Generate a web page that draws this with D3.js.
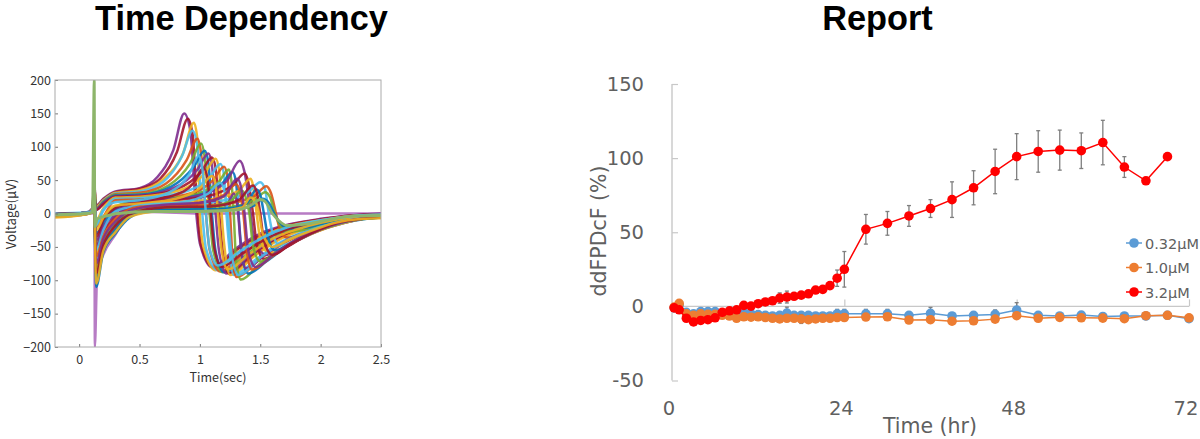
<!DOCTYPE html>
<html><head><meta charset="utf-8">
<script src="https://cdn.jsdelivr.net/npm/d3@7"></script>
<style>html,body{margin:0;background:#fff;overflow:hidden}svg{display:block}</style>
</head><body><svg id="c" width="1200" height="439"></svg>
<script>
const waveColors=["#0072BD","#D95319","#EDB120","#7E2F8E","#77AC30","#4DBEEB","#A2142F"];
const waveXTicks=[0,0.5,1,1.5,2,2.5];
const waveYTicks=[-200,-150,-100,-50,0,50,100,150,200];
const flatTrace=[[-0.2,0],[0.06,0],[0.11,0],[0.125,70],[0.13,-200],[0.15,-90],[0.2,-62],[0.3,-32],[0.4,-6],[0.6,2],[1.0,0],[1.3,0],[1.5,0],[1.7,0],[1.9,0],[2.1,0],[2.3,0],[2.5,0]];
const spikeTrace=[[-0.2,-2],[0.06,0],[0.11,2],[0.125,200],[0.13,-20],[0.15,-8],[0.22,-4],[0.32,0],[0.6,3],[1.0,3],[1.3,5],[1.42,12],[1.5,21],[1.54,18],[1.6,0],[1.65,-10],[1.72,-18],[1.88,-16],[2.05,-10],[2.25,-4],[2.5,-3]];
const waveTraces=[
[[-0.2,-2],[0.06,1],[0.11,8],[0.125,45],[0.14,12],[0.2,22],[0.3,33],[0.5,38],[0.65,55],[0.78,95],[0.87,150],[0.92,125],[0.97,0],[1.0,-45],[1.1,-80],[1.3,-52],[1.5,-30],[1.7,-18],[2,-8],[2.25,-3],[2.5,0]],
[[-0.2,-1],[0.06,1],[0.11,7],[0.125,40],[0.14,11],[0.2,21],[0.3,32],[0.5,37],[0.67,52],[0.81,92],[0.9,142],[0.94,118],[0.98,0],[1.01,-48],[1.12,-82],[1.3,-55],[1.5,-33],[1.7,-19],[2,-9],[2.25,-3],[2.5,-1]],
[[-0.2,-4],[0.06,0],[0.11,7],[0.125,38],[0.14,10],[0.2,20],[0.3,31],[0.5,35],[0.7,52],[0.86,90],[0.95,136],[0.98,110],[1.0,0],[1.03,-50],[1.13,-85],[1.3,-60],[1.5,-36],[1.7,-21],[2,-10],[2.25,-4],[2.5,-2]],
[[-0.2,0],[0.06,2],[0.11,6],[0.125,35],[0.14,8],[0.2,19],[0.3,30],[0.5,33],[0.7,48],[0.85,85],[0.94,124],[0.98,98],[1.02,0],[1.05,-52],[1.15,-85],[1.3,-63],[1.5,-38],[1.7,-22],[2,-11],[2.25,-4],[2.5,-2]],
[[-0.2,-3],[0.06,1],[0.11,6],[0.125,32],[0.14,8],[0.2,18],[0.3,29],[0.5,31],[0.72,45],[0.89,80],[0.98,112],[1.01,90],[1.05,0],[1.08,-54],[1.17,-87],[1.35,-62],[1.55,-36],[1.75,-21],[2,-12],[2.25,-5],[2.5,-3]],
[[-0.2,-2],[0.06,0],[0.11,5],[0.125,30],[0.14,7],[0.2,17],[0.3,28],[0.5,29],[0.74,42],[0.92,75],[1.01,105],[1.04,84],[1.08,0],[1.11,-55],[1.19,-88],[1.35,-67],[1.55,-40],[1.75,-23],[2,-13],[2.25,-5],[2.5,-3]],
[[-0.2,-5],[0.06,-1],[0.11,5],[0.125,28],[0.14,6],[0.2,16],[0.3,27],[0.5,28],[0.76,40],[0.95,70],[1.04,94],[1.07,76],[1.1,0],[1.13,-56],[1.2,-88],[1.38,-66],[1.58,-40],[1.78,-24],[2,-14],[2.25,-6],[2.5,-4]],
[[-0.2,-1],[0.06,1],[0.11,5],[0.125,28],[0.14,6],[0.2,15],[0.3,26],[0.5,27],[0.78,38],[0.98,66],[1.07,90],[1.1,72],[1.13,0],[1.16,-58],[1.22,-90],[1.4,-66],[1.6,-41],[1.8,-25],[2,-15],[2.25,-6],[2.5,-4]],
[[-0.2,-3],[0.06,0],[0.11,4],[0.125,26],[0.14,5],[0.2,14],[0.3,25],[0.5,26],[0.8,36],[1.01,62],[1.1,84],[1.13,68],[1.16,0],[1.19,-58],[1.24,-90],[1.42,-66],[1.62,-41],[1.82,-25],[2.02,-15],[2.25,-7],[2.5,-4]],
[[-0.2,-2],[0.06,1],[0.11,4],[0.125,25],[0.14,-10],[0.2,8],[0.3,24],[0.5,25],[0.82,34],[1.04,60],[1.13,82],[1.16,64],[1.18,0],[1.21,-60],[1.25,-92],[1.45,-64],[1.65,-40],[1.85,-25],[2.05,-15],[2.25,-8],[2.5,-4]],
[[-0.2,-4],[0.06,0],[0.11,4],[0.125,24],[0.14,-15],[0.2,4],[0.3,22],[0.5,23],[0.85,31],[1.08,54],[1.17,74],[1.2,58],[1.22,0],[1.25,-62],[1.28,-92],[1.47,-68],[1.67,-43],[1.87,-27],[2.05,-17],[2.25,-9],[2.5,-5]],
[[-0.2,-1],[0.06,1],[0.11,3],[0.125,24],[0.14,-20],[0.2,-5],[0.3,20],[0.5,21],[0.88,28],[1.11,50],[1.2,70],[1.23,54],[1.25,0],[1.27,-65],[1.3,-95],[1.5,-68],[1.7,-44],[1.9,-27],[2.1,-15],[2.3,-8],[2.5,-5]],
[[-0.2,-3],[0.06,0],[0.11,3],[0.125,60],[0.14,-45],[0.2,-12],[0.3,10],[0.5,20],[0.9,26],[1.15,46],[1.24,66],[1.26,50],[1.28,0],[1.3,-70],[1.34,-99],[1.5,-75],[1.7,-50],[1.9,-30],[2.1,-17],[2.3,-9],[2.5,-5]],
[[-0.2,-2],[0.06,1],[0.11,3],[0.125,30],[0.14,-30],[0.2,-15],[0.3,6],[0.5,18],[0.9,24],[1.18,44],[1.27,62],[1.3,46],[1.32,0],[1.35,-65],[1.4,-90],[1.55,-72],[1.75,-46],[1.95,-28],[2.1,-18],[2.3,-10],[2.5,-6]],
[[-0.2,-4],[0.06,0],[0.11,3],[0.125,28],[0.14,-40],[0.2,-22],[0.3,2],[0.5,18],[0.95,25],[1.22,48],[1.33,79],[1.37,62],[1.42,0],[1.45,-40],[1.55,-62],[1.7,-52],[1.85,-36],[2,-24],[2.2,-13],[2.35,-8],[2.5,-5]],
[[-0.2,-1],[0.06,1],[0.11,3],[0.125,26],[0.14,-50],[0.2,-28],[0.3,-4],[0.5,16],[1.0,24],[1.27,42],[1.37,60],[1.4,48],[1.44,0],[1.47,-45],[1.53,-68],[1.7,-52],[1.85,-37],[2,-25],[2.2,-14],[2.35,-8],[2.5,-5]],
[[-0.2,-3],[0.06,0],[0.11,2],[0.125,24],[0.14,-60],[0.2,-34],[0.3,-10],[0.5,14],[1.05,20],[1.32,34],[1.42,52],[1.44,42],[1.47,0],[1.5,-38],[1.58,-60],[1.72,-48],[1.88,-34],[2.05,-22],[2.2,-14],[2.35,-8],[2.5,-5]],
[[-0.2,-2],[0.06,1],[0.11,2],[0.125,24],[0.14,-70],[0.2,-40],[0.3,-14],[0.42,4],[0.6,12],[1.1,17],[1.4,32],[1.5,47],[1.54,36],[1.57,0],[1.6,-28],[1.66,-48],[1.8,-40],[2,-24],[2.2,-13],[2.35,-8],[2.5,-5]],
[[-0.2,-5],[0.06,-1],[0.11,2],[0.125,22],[0.14,-80],[0.2,-46],[0.3,-20],[0.42,-1],[0.6,10],[1.15,13],[1.45,26],[1.55,41],[1.59,30],[1.63,0],[1.66,-22],[1.72,-36],[1.85,-32],[2,-22],[2.2,-12],[2.35,-8],[2.5,-6]],
[[-0.2,-3],[0.06,0],[0.11,2],[0.125,20],[0.14,-95],[0.2,-52],[0.3,-25],[0.42,-4],[0.6,7],[1.2,9],[1.45,20],[1.54,32],[1.58,25],[1.62,0],[1.66,-16],[1.72,-27],[1.85,-25],[2,-18],[2.2,-10],[2.35,-7],[2.5,-5]],
[[-0.2,-1],[0.06,1],[0.11,2],[0.125,20],[0.14,-110],[0.2,-58],[0.3,-30],[0.42,-6],[0.6,5],[1.25,6],[1.45,12],[1.52,22],[1.57,16],[1.62,-2],[1.66,-13],[1.74,-22],[1.88,-21],[2,-16],[2.2,-9],[2.35,-5],[2.5,-4]],
[[-0.2,-3],[0.06,0],[0.11,4],[0.125,18],[0.14,-50],[0.2,-20],[0.3,-3],[0.5,11],[0.9,13],[1.12,19],[1.22,12],[1.28,30],[1.31,12],[1.34,-50],[1.38,-82],[1.55,-60],[1.75,-37],[1.95,-24],[2.1,-16],[2.3,-8],[2.5,-4]],
[[-0.2,-2],[0.06,1],[0.11,3],[0.125,20],[0.14,-35],[0.2,-10],[0.3,8],[0.5,19],[0.78,27],[0.95,46],[1.03,68],[1.06,55],[1.09,0],[1.12,-52],[1.18,-80],[1.35,-60],[1.55,-38],[1.75,-22],[2,-12],[2.25,-5],[2.5,-3]],
[[-0.2,-4],[0.06,0],[0.11,4],[0.125,20],[0.14,-25],[0.2,-6],[0.3,12],[0.5,15],[0.8,22],[1.0,38],[1.1,56],[1.13,44],[1.15,0],[1.18,-55],[1.23,-84],[1.4,-62],[1.6,-38],[1.8,-24],[2,-14],[2.25,-6],[2.5,-3]],
[[-0.2,-2],[0.06,1],[0.11,3],[0.125,18],[0.14,-55],[0.2,-25],[0.3,3],[0.5,12],[0.85,17],[1.07,30],[1.17,46],[1.2,36],[1.23,0],[1.26,-58],[1.32,-92],[1.5,-66],[1.7,-42],[1.9,-26],[2.1,-15],[2.3,-8],[2.5,-4]],
[[-0.2,-3],[0.06,0],[0.11,3],[0.125,18],[0.14,-65],[0.2,-35],[0.3,-8],[0.5,10],[0.95,14],[1.2,28],[1.3,44],[1.33,34],[1.36,0],[1.39,-58],[1.43,-84],[1.6,-64],[1.8,-40],[2,-24],[2.15,-15],[2.3,-9],[2.5,-5]],
[[-0.2,-1],[0.06,1],[0.11,2],[0.125,16],[0.14,-85],[0.2,-44],[0.3,-16],[0.45,3],[0.7,8],[1.05,10],[1.25,18],[1.35,34],[1.38,24],[1.41,0],[1.44,-48],[1.5,-72],[1.65,-56],[1.85,-34],[2.05,-21],[2.25,-11],[2.5,-6]],
[[-0.2,-4],[0.06,0],[0.11,2],[0.125,16],[0.14,-100],[0.2,-54],[0.3,-24],[0.42,-2],[0.65,5],[1.2,7],[1.38,14],[1.47,36],[1.5,28],[1.53,0],[1.56,-32],[1.62,-55],[1.78,-42],[1.95,-27],[2.15,-14],[2.35,-8],[2.5,-6]],
[[-0.2,-1],[0.06,1],[0.11,3],[0.125,15],[0.14,-75],[0.2,-38],[0.3,-12],[0.45,6],[0.7,13],[1.0,16],[1.2,26],[1.31,52],[1.34,40],[1.37,0],[1.4,-55],[1.46,-80],[1.62,-60],[1.82,-37],[2.02,-22],[2.25,-10],[2.5,-5]],
[[-0.2,-3],[0.06,0],[0.11,2],[0.125,14],[0.14,-90],[0.2,-48],[0.3,-18],[0.45,1],[0.7,9],[1.1,11],[1.32,20],[1.44,42],[1.47,32],[1.5,0],[1.53,-40],[1.6,-62],[1.75,-46],[1.92,-30],[2.12,-15],[2.35,-8],[2.5,-5]],
[[-0.2,-6],[0.06,-1],[0.11,2],[0.125,14],[0.14,-105],[0.2,-56],[0.3,-28],[0.42,-5],[0.65,3],[1.15,4],[1.35,9],[1.42,24],[1.46,18],[1.49,0],[1.52,-30],[1.6,-50],[1.75,-38],[1.92,-26],[2.12,-14],[2.35,-8],[2.5,-7]],
[[-0.2,-2],[0.06,1],[0.11,4],[0.125,22],[0.14,-18],[0.2,6],[0.3,17],[0.5,20],[0.75,32],[0.91,58],[0.99,86],[1.02,68],[1.05,0],[1.08,-52],[1.15,-78],[1.32,-58],[1.52,-36],[1.72,-21],[2,-10],[2.25,-4],[2.5,-2]]
];
const hours=[0.3,1,2,3,4,5,6,7,8,9,10,11,12,13,14,15,16,17,18,19,20,21,22,23,24,27,30,33,36,39,42,45,48,51,54,57,60,63,66,69,72];
const lowDose=[-1,1,-4,-5,-3.5,-3.5,-3.5,-5,-4,-5,-4,-5,-5.5,-6,-6.5,-6,-4.5,-6,-6,-6,-6.5,-6.5,-6.5,-5,-5,-5,-5,-6,-4.7,-6.5,-6,-5.4,-2.5,-6,-6.5,-5.9,-6.8,-6.5,-6.5,-6,-8.3];
const lowErr=[0,2,0,0,0,0,0,0,0,0,0,0,0,0,0,0,4,0,2,0,0,0,0,3,3,3,3,0,4,0,0,3,5,0,2,0,0,0,0,0,2];
const midDose=[-0.5,2,-5,-6,-5,-5.4,-5.4,-6,-6.5,-8,-7,-7.3,-7,-7.5,-8,-8.5,-8,-8,-8.5,-9,-8.5,-8,-8,-7.5,-7.5,-7.2,-7,-9.2,-9,-10,-9.7,-8.6,-6.3,-8,-7.4,-7.7,-7.9,-8.3,-6.3,-6,-7.7];
const midErr=[0,0,0,0,0,0,0,0,0,0,0,0,0,0,0,0,0,0,3,0,0,0,0,0,0,0,0,0,0,0,0,0,0,0,0,0,0,0,0,0,0];
const highDose=[-1,-2.3,-8,-10.5,-9.5,-9,-7.7,-4,-3,-2.3,0.7,0.2,1.8,3,3.8,5.6,6.3,6.8,7.6,8.5,11,11.5,14,19,25,52,56,61,66,72,80,91,101,104.5,105.4,105,110.5,94,84.7,101,null];
const highErr=[0,0,0,0,0,0,0,0,0,0,0,0,0,0,0,3.5,4,2,2,2,2,2,2.5,5.5,12,10,8,7,6,12,11.5,15,15.5,14,13.5,12,15,7,0,0,0];
const doseLabels=["0.32µM","1.0µM","3.2µM"];
const doseColors=["#5B9BD5","#ED7D31","#FF0000"];
const reportXTicks=[0,24,48,72];
const reportYTicks=[-50,0,50,100,150];

const svg=d3.select("#c");
const defs=svg.append("defs");
defs.append("filter").attr("id","soft").append("feGaussianBlur").attr("stdDeviation",0.6);
defs.append("filter").attr("id","softer").append("feGaussianBlur").attr("stdDeviation",0.35);
defs.append("clipPath").attr("id","plotClip").append("rect").attr("x",55).attr("y",80).attr("width",326).attr("height",267);

const title=(x,y,t)=>svg.append("text").attr("x",x).attr("y",y).attr("text-anchor","middle")
  .attr("font-family","Liberation Sans").attr("font-weight","bold").attr("font-size",34.3).attr("fill","#000").text(t);
title(241.5,30,"Time Dependency");
title(877.5,30,"Report");

/* left panel */
const wx=d3.scaleLinear().domain([-0.2,2.5]).range([55,381]);
const wy=d3.scaleLinear().domain([-200,200]).range([347,80]);
const jp="'Noto Sans CJK JP','Noto Sans',sans-serif";
const wave=d3.line().x(d=>wx(d[0])).y(d=>wy(d[1])).curve(d3.curveMonotoneX);
const wg=svg.append("g").attr("clip-path","url(#plotClip)").append("g").attr("filter","url(#soft)");
wg.append("path").attr("d",wave(flatTrace)).attr("fill","none").attr("stroke","#B77BC4").attr("stroke-width",2.4);
wg.append("g").selectAll("path").data(waveTraces).join("path").attr("d",wave).attr("fill","none")
  .attr("stroke",(d,i)=>waveColors[(i*3+3)%7]).attr("stroke-width",2.5).attr("stroke-opacity",.9);
wg.append("path").attr("d",wave(spikeTrace)).attr("fill","none").attr("stroke","#8DB56A").attr("stroke-width",2.8);
const style=(g,col,size,fam)=>{g.selectAll(".domain").remove();g.selectAll("line").attr("stroke","#777");
  g.selectAll("text").attr("font-family",fam).attr("font-size",size).attr("fill",col);};
const wb=svg.append("g").attr("transform","translate(0,347)").call(d3.axisBottom(wx).tickValues(waveXTicks).tickFormat(d3.format("~g")).tickSize(-3).tickPadding(8));
style(wb,"#333",12.5,jp);
const wl=svg.append("g").attr("transform","translate(55,0)").call(d3.axisLeft(wy).tickValues(waveYTicks).tickSize(-3).tickPadding(4));
style(wl,"#333",12.5,jp);
svg.append("rect").attr("x",55).attr("y",80).attr("width",326).attr("height",267).attr("fill","none").attr("stroke","#aaa").attr("stroke-width",1);
svg.append("text").attr("x",218).attr("y",382).attr("text-anchor","middle").attr("font-family",jp).attr("font-size",12.5).attr("fill","#333").text("Time(sec)");
svg.append("text").attr("transform","translate(16,214) rotate(-90)").attr("text-anchor","middle").attr("font-family",jp).attr("font-size",13.2).attr("fill","#333").text("Voltage(µV)");

/* right panel */
const rx=d3.scaleLinear().domain([0,72]).range([672,1189]);
const ry=d3.scaleLinear().domain([-50,150]).range([380.5,84]);
const dv="'DejaVu Sans',sans-serif";
const gridCol="#c8c8c8";
svg.append("line").attr("x1",rx(0)).attr("x2",rx(0)).attr("y1",ry(150)).attr("y2",ry(-50)).attr("stroke",gridCol).attr("stroke-width",1.4);
svg.append("line").attr("x1",rx(0)).attr("x2",rx(72)).attr("y1",ry(0)).attr("y2",ry(0)).attr("stroke",gridCol).attr("stroke-width",1.4);
const rb=svg.append("g").attr("transform",`translate(0,${ry(0)})`).call(d3.axisBottom(rx).tickValues(reportXTicks.slice(1)).tickSize(-7).tickFormat(""));
rb.selectAll(".domain").remove();rb.selectAll("line").attr("stroke",gridCol).attr("stroke-width",1.2);
const rbl=svg.append("g").attr("transform","translate(0,380)").call(d3.axisBottom(rx).tickValues(reportXTicks).tickSize(0).tickPadding(21));
rbl.select(".domain").remove();rbl.selectAll("text").attr("font-family",dv).attr("font-size",19.5).attr("fill","#606060").attr("dx",-3.5);
const rl=svg.append("g").attr("transform","translate(672,0)").call(d3.axisRight(ry).tickValues(reportYTicks).tickSize(6).tickFormat(""));
rl.select(".domain").remove();rl.selectAll("line").attr("stroke",gridCol).attr("stroke-width",1.2);
const rll=svg.append("g").attr("transform","translate(644,0)").call(d3.axisLeft(ry).tickValues(reportYTicks).tickSize(0).tickPadding(0).tickFormat(d=>String(d)));
rll.select(".domain").remove();rll.selectAll("text").attr("font-family",dv).attr("font-size",19.5).attr("fill","#606060");
svg.append("text").attr("x",930).attr("y",433).attr("text-anchor","middle").attr("font-family",dv).attr("font-size",20.5).attr("fill","#606060").text("Time (hr)");
svg.append("text").attr("transform","translate(606,231) rotate(-90)").attr("text-anchor","middle").attr("font-family",dv).attr("font-size",20.5).attr("fill","#606060").text("ddFPDcF (%)");

const rg=svg.append("g").attr("filter","url(#softer)");
const seriesList=[[lowDose,lowErr],[midDose,midErr],[highDose,highErr]];
const rline=d3.line().defined(d=>d.v!==null).x(d=>rx(d.t)).y(d=>ry(d.v));
seriesList.forEach(([vals,errs],k)=>{
  const pts=hours.map((t,i)=>({t,v:vals[i],e:errs[i]}));
  const ep=pts.filter(d=>d.v!==null&&d.e>0);
  const eg=rg.append("g").attr("stroke","#7f7f7f").attr("stroke-width",1.3);
  eg.selectAll(".v").data(ep).join("line").attr("x1",d=>rx(d.t)).attr("x2",d=>rx(d.t)).attr("y1",d=>ry(d.v-d.e)).attr("y2",d=>ry(d.v+d.e));
  [-1,1].forEach(s=>eg.append("g").selectAll("line").data(ep).join("line").attr("x1",d=>rx(d.t)-2).attr("x2",d=>rx(d.t)+2).attr("y1",d=>ry(d.v+s*d.e)).attr("y2",d=>ry(d.v+s*d.e)));
  rg.append("path").attr("d",rline(pts)).attr("fill","none").attr("stroke",doseColors[k]).attr("stroke-width",1.5);
  rg.append("g").selectAll("circle").data(pts.filter(d=>d.v!==null)).join("circle").attr("cx",d=>rx(d.t)).attr("cy",d=>ry(d.v)).attr("r",4.8).attr("fill",doseColors[k]);
});
const legY=d3.scalePoint().domain(doseLabels).range([243,292]);
const leg=svg.append("g").selectAll("g").data(doseLabels).join("g").attr("transform",d=>`translate(0,${legY(d)})`);
leg.append("line").attr("x1",1126).attr("x2",1142).attr("stroke",(d,i)=>doseColors[i]).attr("stroke-width",1.5);
leg.append("circle").attr("cx",1134).attr("r",4.8).attr("fill",(d,i)=>doseColors[i]);
leg.append("text").attr("x",1145).attr("y",5.5).attr("font-family",dv).attr("font-size",14.5).attr("fill","#606060").text(d=>d);
</script></body></html>
